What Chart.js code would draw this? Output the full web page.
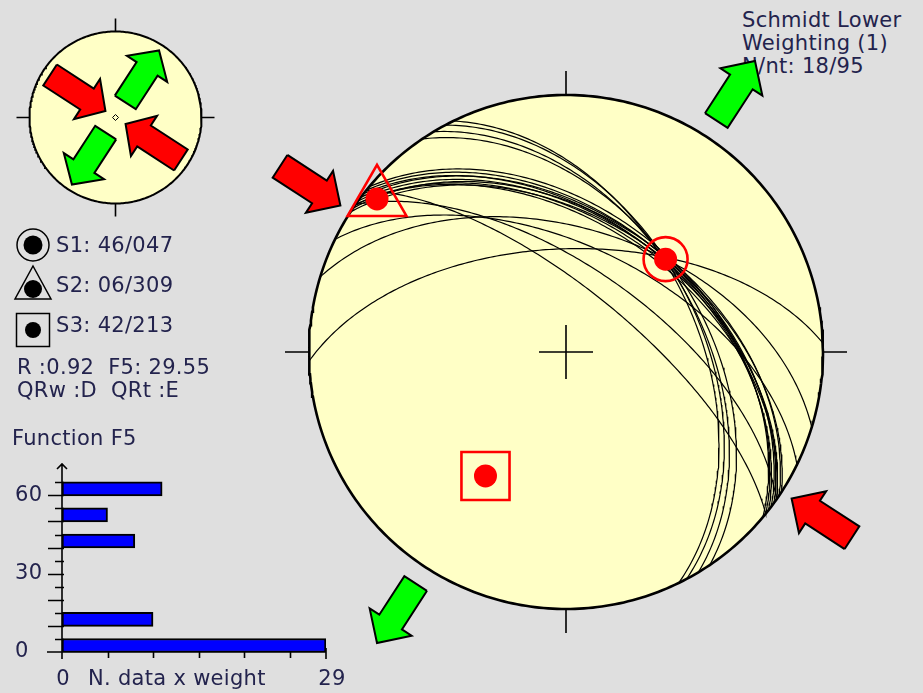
<!DOCTYPE html>
<html>
<head>
<meta charset="utf-8">
<script src="https://cdn.jsdelivr.net/npm/chart.js@4.4.0/dist/chart.umd.min.js"></script>
<style>
  html, body { margin: 0; padding: 0; background: #dfdfdf; }
  body { width: 923px; height: 693px; position: relative; overflow: hidden;
         font-family: "DejaVu Sans", Verdana, sans-serif; }
  canvas { position: absolute; }
  #inset { left: 0; top: 0; z-index: 1; }
  #hist { left: 0; top: 440px; z-index: 1; }
  #net { left: 0; top: 0; z-index: 3; }
  .t { position: absolute; z-index: 2; font-size: 21px; line-height: 24px; color: #23234d;
       white-space: pre; letter-spacing: 0.3px; }
</style>
</head>
<body>
<canvas id="inset" width="240" height="235"></canvas>
<canvas id="hist" width="360" height="253"></canvas>

<div class="t" id="projLine" style="left:742px;top:8px"></div>
<div class="t" id="weightLine" style="left:742px;top:31px"></div>
<div class="t" id="countLine" style="left:742px;top:54px"></div>
<div class="t" id="s1Line" style="left:56px;top:233px"></div>
<div class="t" id="s2Line" style="left:56px;top:273px"></div>
<div class="t" id="s3Line" style="left:56px;top:313px"></div>
<div class="t" id="rLine" style="left:17px;top:355px"></div>
<div class="t" id="qLine" style="left:17px;top:378px"></div>
<div class="t" id="fTitle" style="left:12px;top:426px"></div>

<canvas id="net" width="923" height="693"></canvas>

<script>
// ---------- data ----------
// fault planes: dip direction / dip (degrees)
const faultDipDirs = [33, 34, 35, 36, 37, 38, 39, 40, 35, 56, 59, 62, 64, 35, 39, 17, 358, 26];
const faultDips    = [47, 46, 48, 47, 46, 47, 46, 45, 49, 46, 47, 47, 48, 63, 70, 50, 57, 56];

// principal stress axes: plunge / trend
const sigmaNames   = ['S1', 'S2', 'S3'];
const sigmaPlunges = [46, 6, 42];
const sigmaTrends  = [47, 309, 213];

// summary values
const projectionName = 'Schmidt Lower';
const weighting = 1;
const nUsed = 18, nTotal = 95;
const ratioR = 0.92, functionF5 = 29.55;
const qualityW = 'D', qualityT = 'E';

// histogram of function F5 (classes of 5, lower bound) and weighted counts
const f5Classes = [0, 10, 40, 50, 60];
const f5Counts  = [29, 10, 8, 5, 11];
const f5ClassWidth = 5;
const f5YLabels = [0, 30, 60];
const f5XLabels = [0, 29];
const f5XTitle = 'N. data x weight';

// ---------- text ----------
const pad = (v, n) => String(v).padStart(n, '0');
document.getElementById('projLine').textContent = projectionName;
document.getElementById('weightLine').textContent = 'Weighting (' + weighting + ')';
document.getElementById('countLine').textContent = 'N/nt: ' + nUsed + '/' + nTotal;
['s1Line', 's2Line', 's3Line'].forEach((id, i) => {
  document.getElementById(id).textContent =
    sigmaNames[i] + ': ' + pad(sigmaPlunges[i], 2) + '/' + pad(sigmaTrends[i], 3);
});
document.getElementById('rLine').textContent = 'R :' + ratioR.toFixed(2) + '  F5: ' + functionF5.toFixed(2);
document.getElementById('qLine').textContent = 'QRw :' + qualityW + '  QRt :' + qualityT;
document.getElementById('fTitle').textContent = 'Function F5';

// ---------- projection helpers (equal-area, lower hemisphere) ----------
const D2R = Math.PI / 180;
function project(n, e, z) {
  const k = 1 / Math.sqrt(1 + z);
  return { x: e * k, y: n * k };
}
function lineToNet(plunge, trend) {
  const p = plunge * D2R, t = trend * D2R;
  return project(Math.cos(p) * Math.cos(t), Math.cos(p) * Math.sin(t), Math.sin(p));
}
function greatCircle(dipDir, dip) {
  const st = (dipDir - 90) * D2R, dd = dipDir * D2R, d = dip * D2R;
  const sN = Math.cos(st), sE = Math.sin(st);
  const dN = Math.cos(d) * Math.cos(dd), dE = Math.cos(d) * Math.sin(dd), dZ = Math.sin(d);
  const pts = [];
  for (let a = 0; a <= 180; a++) {
    const c = Math.cos(a * D2R), s = Math.sin(a * D2R);
    pts.push(project(c * sN + s * dN, c * sE + s * dE, Math.max(0, s * dZ)));
  }
  return pts;
}
function primitive() {
  const pts = [];
  for (let a = 0; a <= 360; a++) pts.push({ x: Math.sin(a * D2R), y: Math.cos(a * D2R) });
  return pts;
}
// block arrow along an azimuth, from radius rFrom to radius rTo (data units)
function arrowShape(az, rFrom, rTo, g, unit) {
  const ux = Math.sin(az * D2R), uy = Math.cos(az * D2R);
  const T = { x: ux * rFrom, y: uy * rFrom }, P = { x: ux * rTo, y: uy * rTo };
  let dx = P.x - T.x, dy = P.y - T.y;
  const L = Math.hypot(dx, dy); dx /= L; dy /= L;
  const px = -dy, py = dx;
  const b = g.body / unit, h = g.head / unit, hl = g.headLen / unit;
  const at = (u, v) => ({ x: T.x + dx * u + px * v, y: T.y + dy * u + py * v });
  return [at(0, b), at(L - hl, b), at(L - hl, h), at(L, 0), at(L - hl, -h), at(L - hl, -b), at(0, -b), at(0, b)];
}

// horizontal stress directions follow from the S3 trend
const shMin = sigmaTrends[2] % 180;       // extension
const shMax = (shMin + 90) % 180;         // compression

const RED = '#ff0000', GREEN = '#00ff00', NET_FILL = '#ffffc6', INK = '#000000';

function arrowDatasets(geom, unit, order) {
  const sets = [];
  [shMax, shMax + 180].forEach(az => sets.push({
    data: arrowShape(az, geom.redOuter, geom.redInner, geom, unit),
    showLine: true, fill: 'shape', backgroundColor: RED, borderColor: INK,
    borderWidth: 2, borderJoinStyle: 'miter', pointRadius: 0, order
  }));
  [shMin, shMin + 180].forEach(az => sets.push({
    data: arrowShape(az, geom.greenInner, geom.greenOuter, geom, unit),
    showLine: true, fill: 'shape', backgroundColor: GREEN, borderColor: INK,
    borderWidth: 2, borderJoinStyle: 'miter', pointRadius: 0, order
  }));
  return sets;
}

function netScales(cx, cy, unit, w, h) {
  return {
    x: { type: 'linear', display: false, bounds: 'data', min: -cx / unit, max: (w - cx) / unit },
    y: { type: 'linear', display: false, bounds: 'data', min: -(h - cy) / unit, max: cy / unit }
  };
}
const baseOptions = {
  responsive: false, animation: false, events: [],
  layout: { padding: 0, autoPadding: false },
  plugins: { legend: { display: false }, tooltip: { enabled: false } }
};

// ---------- main stereonet ----------
const MAIN = { cx: 566, cy: 352, unit: 257, w: 923, h: 693, tick: 24, cross: 27 };
const mainArrowGeom = {
  body: 13.5, head: 25, headLen: 25,
  redOuter: 341 / 257, redInner: 269 / 257, greenInner: 276 / 257, greenOuter: 347 / 257
};

const mainSets = [];
mainSets.push({ data: primitive(), showLine: true, fill: 'shape', backgroundColor: NET_FILL,
  borderWidth: 0, pointRadius: 0, order: 10 });
faultDipDirs.forEach((dd, i) => mainSets.push({
  data: greatCircle(dd, faultDips[i]), showLine: true, borderColor: INK, borderWidth: 1.2,
  pointRadius: 0, fill: false, order: 6
}));
mainSets.push({ data: primitive(), showLine: true, borderColor: INK, borderWidth: 2.6,
  pointRadius: 0, fill: false, order: 5 });
const sigmaPts = sigmaPlunges.map((p, i) => lineToNet(p, sigmaTrends[i]));
const sigmaSymbols = [
  { pointStyle: 'circle', pointRadius: 22 },
  { pointStyle: 'triangle', pointRadius: 34 },
  { pointStyle: 'rect', pointRadius: 34 }
];
sigmaPts.forEach((pt, i) => {
  mainSets.push({ data: [pt], showLine: false, pointStyle: 'circle', pointRadius: 11.5,
    pointBackgroundColor: RED, pointBorderColor: RED, pointBorderWidth: 0, order: 3 });
  mainSets.push({ data: [pt], showLine: false, pointStyle: sigmaSymbols[i].pointStyle,
    pointRadius: sigmaSymbols[i].pointRadius, pointBackgroundColor: 'rgba(0,0,0,0)',
    pointBorderColor: RED, pointBorderWidth: 2.6, order: 2 });
});
arrowDatasets(mainArrowGeom, MAIN.unit, 1).forEach(s => mainSets.push(s));

const netFrame = {
  id: 'netFrame',
  afterDatasetsDraw(chart, args, opts) {
    const { ctx, scales: { x, y } } = chart;
    const cx = x.getPixelForValue(0), cy = y.getPixelForValue(0);
    const r = x.getPixelForValue(1) - cx;
    ctx.save();
    ctx.strokeStyle = INK;
    ctx.lineWidth = opts.width;
    ctx.beginPath();
    // N, S, E, W ticks outside the primitive
    ctx.moveTo(cx, cy - r); ctx.lineTo(cx, cy - r - opts.tick);
    ctx.moveTo(cx, cy + r); ctx.lineTo(cx, cy + r + opts.tick);
    ctx.moveTo(cx - r, cy); ctx.lineTo(cx - r - opts.tick, cy);
    ctx.moveTo(cx + r, cy); ctx.lineTo(cx + r + opts.tick, cy);
    if (opts.cross) {
      ctx.moveTo(cx - opts.cross, cy); ctx.lineTo(cx + opts.cross, cy);
      ctx.moveTo(cx, cy - opts.cross); ctx.lineTo(cx, cy + opts.cross);
    }
    ctx.stroke();
    ctx.restore();
  }
};

// legend symbols next to the S1..S3 labels
const sigmaLegend = {
  id: 'sigmaLegend',
  afterDraw(chart) {
    const ctx = chart.ctx;
    ctx.save();
    ctx.strokeStyle = INK; ctx.fillStyle = INK; ctx.lineWidth = 1.5;
    const dot = (x, y, r) => { ctx.beginPath(); ctx.arc(x, y, r, 0, 2 * Math.PI); ctx.fill(); };
    // S1
    ctx.beginPath(); ctx.arc(33, 245, 16, 0, 2 * Math.PI); ctx.stroke();
    dot(33, 245, 9.5);
    // S2
    ctx.beginPath(); ctx.moveTo(33, 266); ctx.lineTo(51, 299); ctx.lineTo(15, 299); ctx.closePath(); ctx.stroke();
    dot(33, 289, 9);
    // S3
    ctx.strokeRect(16.5, 313.5, 33, 33);
    dot(33, 330, 8);
    ctx.restore();
  }
};

new Chart(document.getElementById('net'), {
  type: 'scatter',
  data: { datasets: mainSets },
  options: Object.assign({}, baseOptions, {
    scales: netScales(MAIN.cx, MAIN.cy, MAIN.unit, MAIN.w, MAIN.h),
    plugins: Object.assign({}, baseOptions.plugins, {
      netFrame: { width: 1.6, tick: MAIN.tick, cross: MAIN.cross }
    })
  }),
  plugins: [netFrame, sigmaLegend]
});

// ---------- inset: stress regime ----------
const INSET = { cx: 115.5, cy: 117.5, unit: 86, w: 240, h: 235, tick: 13 };
const insetArrowGeom = {
  body: 12.5, head: 24, headLen: 22,
  redOuter: 78 / 86, redInner: 12 / 86, greenInner: 18 / 86, greenOuter: 80 / 86
};
const insetSets = [
  { data: primitive(), showLine: true, fill: 'shape', backgroundColor: NET_FILL,
    borderColor: INK, borderWidth: 2, pointRadius: 0, order: 10 },
  { data: [{ x: 0, y: 0 }], showLine: false, pointStyle: 'rectRot', pointRadius: 3,
    pointBackgroundColor: NET_FILL, pointBorderColor: INK, pointBorderWidth: 1, order: 5 }
];
arrowDatasets(insetArrowGeom, INSET.unit, 1).forEach(s => insetSets.push(s));

new Chart(document.getElementById('inset'), {
  type: 'scatter',
  data: { datasets: insetSets },
  options: Object.assign({}, baseOptions, {
    scales: netScales(INSET.cx, INSET.cy, INSET.unit, INSET.w, INSET.h),
    plugins: Object.assign({}, baseOptions.plugins, {
      netFrame: { width: 1.6, tick: INSET.tick, cross: 0 }
    })
  }),
  plugins: [netFrame]
});

// ---------- histogram of F5 ----------
const TEXT = '#23234d';
const histAxes = {
  id: 'histAxes',
  afterDatasetsDraw(chart) {
    const { ctx, scales: { x, y } } = chart;
    const x0 = x.getPixelForValue(0), y0 = y.getPixelForValue(0);
    const yTop = y.getPixelForValue(y.max);
    ctx.save();
    ctx.strokeStyle = INK; ctx.lineWidth = 1.6;
    ctx.beginPath();
    // vertical axis with arrow head
    ctx.moveTo(x0, yTop); ctx.lineTo(x0, y0 + 7);
    ctx.moveTo(x0 - 5, yTop + 5); ctx.lineTo(x0, yTop); ctx.lineTo(x0 + 5, yTop + 5);
    // vertical axis ticks every 5, longer every 10
    for (let v = 5; v < y.max - 2; v += 5) {
      const py = Math.round(y.getPixelForValue(v)) + 0.5;
      ctx.moveTo(x0 - (v % 10 === 0 ? 14 : 7), py); ctx.lineTo(x0 + 2, py);
    }
    // horizontal axis
    ctx.moveTo(x0 - 15, y0); ctx.lineTo(x.getPixelForValue(x.max), y0);
    for (let v = 5; v < x.max; v += 5) {
      const px = Math.round(x.getPixelForValue(v)) + 0.5;
      ctx.moveTo(px, y0); ctx.lineTo(px, y0 + 6);
    }
    ctx.moveTo(x.getPixelForValue(x.max), y0 - 4); ctx.lineTo(x.getPixelForValue(x.max), y0 + 7);
    ctx.stroke();

    ctx.fillStyle = TEXT;
    ctx.font = '21px "DejaVu Sans"';
    if ('letterSpacing' in ctx) ctx.letterSpacing = '0.3px';
    ctx.textBaseline = 'middle';
    ctx.textAlign = 'left';
    f5YLabels.forEach(v => ctx.fillText(String(v), 15, y.getPixelForValue(v)));
    const yl = y0 + 28;
    ctx.textAlign = 'center';
    f5XLabels.forEach((v, i) => ctx.fillText(String(v),
      x.getPixelForValue(v) + (i === f5XLabels.length - 1 ? 6 : 1), yl));
    ctx.textAlign = 'left';
    ctx.fillText(f5XTitle, x0 + 26, yl);
    ctx.restore();
  }
};

new Chart(document.getElementById('hist'), {
  type: 'bar',
  data: {
    datasets: [{
      data: f5Classes.map((c, i) => ({ y: c + f5ClassWidth / 2, x: f5Counts[i] })),
      backgroundColor: '#0000ff', borderColor: INK, borderWidth: 2, borderSkipped: false,
      barThickness: 14
    }]
  },
  options: Object.assign({}, baseOptions, {
    indexAxis: 'y',
    layout: { padding: { left: 62, right: 34, top: 24, bottom: 41 }, autoPadding: false },
    scales: {
      x: { type: 'linear', display: false, offset: false, min: 0, max: 29 },
      y: { type: 'linear', display: false, offset: false, min: 0, max: 72 }
    }
  }),
  plugins: [histAxes]
});
</script>
</body>
</html>
